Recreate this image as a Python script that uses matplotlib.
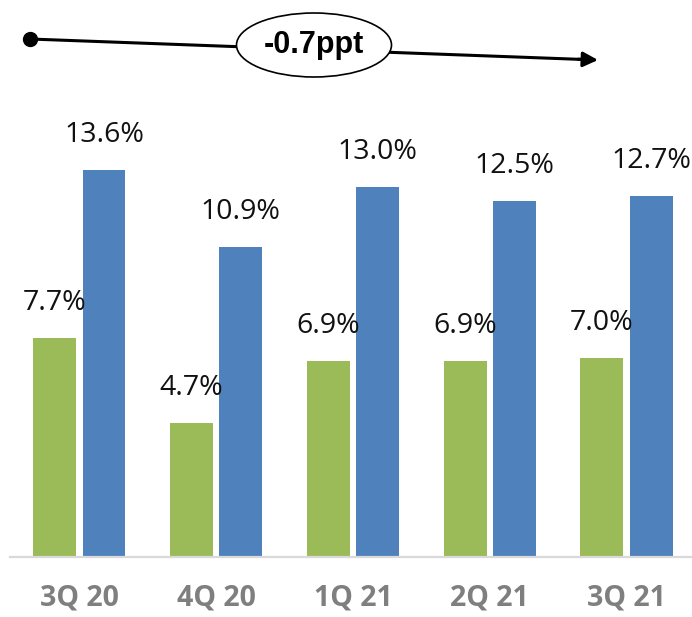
import matplotlib
matplotlib.use("Agg")
import matplotlib.pyplot as plt
from matplotlib.patches import Ellipse
import numpy as np

categories = ["3Q 20", "4Q 20", "1Q 21", "2Q 21", "3Q 21"]
green_values = [7.7, 4.7, 6.9, 6.9, 7.0]
blue_values = [13.6, 10.9, 13.0, 12.5, 12.7]
green_labels = ["7.7%", "4.7%", "6.9%", "6.9%", "7.0%"]
blue_labels = ["13.6%", "10.9%", "13.0%", "12.5%", "12.7%"]
change_label = "-0.7ppt"

W, H = 692, 617
DPI = 100
fig = plt.figure(figsize=(W / DPI, H / DPI), dpi=DPI)
plt.rcParams['font.family'] = ['Open Sans', 'DejaVu Sans']

base_px = 557
ax = fig.add_axes([10 / W, (H - base_px) / H, (W - 10) / W, base_px / H])

x = np.arange(len(categories))
width = 0.314
off = 0.18
green = "#9BBB59"
blue = "#4F81BD"
gb = ax.bar(x - off, green_values, width, color=green)
bb = ax.bar(x + off, blue_values, width, color=blue)

ax.set_xlim(-0.507, 4.478)
ax.set_ylim(0, base_px / 28.46)

for rects, labels in ((gb, green_labels), (bb, blue_labels)):
    for r, lab in zip(rects, labels):
        ax.annotate(lab, (r.get_x() + r.get_width() / 2, r.get_height()),
                    xytext=(0, 15), textcoords="offset points",
                    ha="center", va="bottom", fontsize=20.5, color="#111111")

for s in ("top", "right", "left"):
    ax.spines[s].set_visible(False)
ax.spines["bottom"].set_color("#D9D9D9")
ax.spines["bottom"].set_linewidth(1.6)
ax.set_yticks([])
ax.set_xticks(x)
ax.set_xticklabels(categories, fontsize=20.5, fontweight="bold", color="#7F7F7F")
ax.tick_params(axis="x", length=0, pad=19)

# Arrow annotation in figure pixel coordinates
def fp(px, py):
    return (px / W, (H - py) / H)

x0, y0 = 30, 39
x1, y1 = 598, 60
fig.add_artist(plt.Line2D([fp(x0, y0)[0], fp(x1 - 14, y1 - 0.5)[0]],
                          [fp(x0, y0)[1], fp(x1 - 14, y1 - 0.5)[1]],
                          transform=fig.transFigure, color="black", lw=2.2))
ax.annotate("", xy=fp(x1, y1), xycoords="figure fraction",
            xytext=fp(x1 - 20, y1 - 0.8), textcoords="figure fraction",
            arrowprops=dict(arrowstyle="-|>,head_length=0.9,head_width=0.45",
                            color="black", lw=2.2, shrinkA=0, shrinkB=0),
            annotation_clip=False)
fig.add_artist(plt.Line2D([fp(x0, y0)[0]], [fp(x0, y0)[1]], marker="o",
                          markersize=10, color="black",
                          transform=fig.transFigure))
cx, cy = 314, 45
ell = Ellipse(fp(cx, cy), 155 / W, 64 / H, transform=fig.transFigure,
              facecolor="white", edgecolor="black", lw=1.2, zorder=5)
fig.add_artist(ell)
fig.text(fp(cx, cy)[0], fp(cx, cy)[1], change_label, ha="center", va="center",
         fontsize=22, fontweight="bold",
         family=["Liberation Sans", "DejaVu Sans"], zorder=6)

fig.savefig("out.png", dpi=DPI)
